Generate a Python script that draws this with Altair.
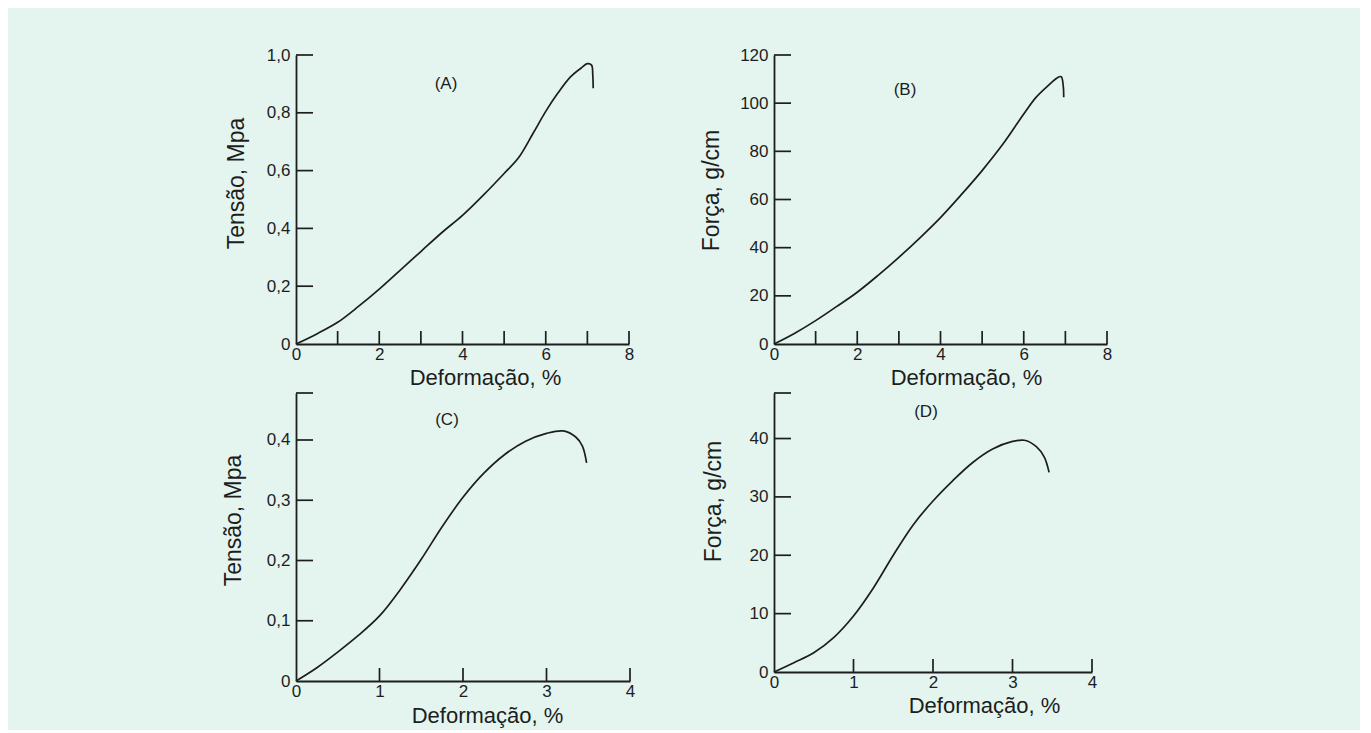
import altair as alt
import pandas as pd

# ---------------- data ----------------
# (A) Tensão (MPa) vs Deformação (%)
a_x = [0, 0.5, 1, 1.5, 2, 2.5, 3, 3.5, 4, 4.5, 5, 5.35, 5.7, 6, 6.3, 6.6, 6.85, 7.0, 7.1, 7.13, 7.14]
a_y = [0, 0.035, 0.075, 0.13, 0.19, 0.255, 0.32, 0.385, 0.445, 0.515, 0.59, 0.645, 0.73, 0.805, 0.87, 0.925, 0.955, 0.97, 0.965, 0.93, 0.885]
# (B) Força (g/cm) vs Deformação (%)
b_x = [0, 0.5, 1, 1.5, 2, 2.5, 3, 3.5, 4, 4.5, 5, 5.5, 6, 6.3, 6.6, 6.8, 6.9, 6.95, 6.96]
b_y = [0, 4.5, 9.7, 15.5, 21.5, 28.5, 36, 44, 52.5, 62, 72, 83, 95.5, 102.5, 107.5, 110.5, 111, 107, 102.5]
# (C) Tensão (MPa) vs Deformação (%)
c_x = [0, 0.25, 0.5, 0.75, 1, 1.25, 1.5, 1.75, 2, 2.25, 2.5, 2.75, 3, 3.2, 3.35, 3.43, 3.48]
c_y = [0, 0.022, 0.048, 0.076, 0.108, 0.152, 0.202, 0.256, 0.305, 0.345, 0.376, 0.398, 0.411, 0.415, 0.405, 0.39, 0.362]
# (D) Força (g/cm) vs Deformação (%)
d_x = [0, 0.25, 0.5, 0.75, 1, 1.25, 1.5, 1.75, 2, 2.25, 2.5, 2.75, 3, 3.15, 3.3, 3.4, 3.46]
d_y = [0, 1.6, 3.3, 5.9, 9.6, 14.4, 20.0, 25.2, 29.3, 32.8, 35.9, 38.2, 39.5, 39.7, 38.6, 36.8, 34.2]

panel_labels = ["(A)", "(B)", "(C)", "(D)"]
x_title = "Deformação, %"
y_titles = ["Tensão, Mpa", "Força, g/cm", "Tensão, Mpa", "Força, g/cm"]

a_xlabels = [0, 2, 4, 6, 8]
a_xticks = [1, 2, 3, 4, 5, 6, 7, 8]
a_ylabels = [0, 0.2, 0.4, 0.6, 0.8, 1.0]
a_yticks = [0.2, 0.4, 0.6, 0.8, 1.0]

b_xlabels = [0, 2, 4, 6, 8]
b_xticks = [1, 2, 3, 4, 5, 6, 7, 8]
b_ylabels = [0, 20, 40, 60, 80, 100, 120]
b_yticks = [20, 40, 60, 80, 100, 120]

c_xlabels = [0, 1, 2, 3, 4]
c_xticks = [1, 2, 3, 4]
c_ylabels = [0, 0.1, 0.2, 0.3, 0.4]
c_yticks = [0.1, 0.2, 0.3, 0.4, 0.478]

d_xlabels = [0, 1, 2, 3, 4]
d_xticks = [1, 2, 3, 4]
d_ylabels = [0, 10, 20, 30, 40]
d_yticks = [10, 20, 30, 40, 47.8]

BG = "#e4f5f0"
INK = "#1d1d1d"
FONT = "Liberation Sans"
COMMA = "datum.value == 0 ? '0' : replace(format(datum.value, '.1f'), '.', ',')"


def panel(xs, ys, label, ytitle, w, h, xdom, ydom, xlabels, xticks, ylabels, yticks,
          ylab_expr, xt_pos, yt_pos, lab_pos):
    df = pd.DataFrame({"x": xs, "y": ys, "i": list(range(len(xs)))})
    xscale = alt.Scale(domain=xdom, nice=False, zero=False)
    yscale = alt.Scale(domain=ydom, nice=False, zero=False)
    xaxis = alt.Axis(values=xlabels, ticks=False, tickSize=0, grid=False,
                     domainColor=INK, domainWidth=1.8, labelFlush=False, labelOverlap=False,
                     labelFont=FONT, labelFontSize=17, labelColor=INK, labelPadding=2,
                     title=x_title, titleFont=FONT, titleFontSize=22, titleFontWeight="normal",
                     titleColor=INK, titleX=xt_pos[0], titleY=xt_pos[1], titleBaseline="alphabetic")
    yargs = dict(values=ylabels, ticks=False, tickSize=0, grid=False,
                 domainColor=INK, domainWidth=1.8, labelFlush=False, labelOverlap=False,
                 labelFont=FONT, labelFontSize=17, labelColor=INK, labelPadding=6,
                 title=ytitle, titleFont=FONT, titleFontSize=23, titleFontWeight="normal",
                 titleColor=INK, titleX=yt_pos[0], titleY=yt_pos[1], titleBaseline="middle",
                 titleAngle=270)
    if ylab_expr:
        yargs["labelExpr"] = ylab_expr
    yaxis = alt.Axis(**yargs)

    line = alt.Chart(df).mark_line(color=INK, strokeWidth=1.7, interpolate="catmull-rom").encode(
        x=alt.X("x:Q", scale=xscale, axis=xaxis, title=x_title),
        y=alt.Y("y:Q", scale=yscale, axis=yaxis, title=ytitle),
        order=alt.Order("i:Q"),
    )
    xt = alt.Chart(pd.DataFrame({"t": xticks})).mark_rule(color=INK, strokeWidth=1.7).encode(
        x=alt.X("t:Q", scale=xscale, axis=xaxis, title=x_title),
        y=alt.value(h), y2=alt.value(h - 13),
    )
    yt = alt.Chart(pd.DataFrame({"t": yticks})).mark_rule(color=INK, strokeWidth=1.7).encode(
        y=alt.Y("t:Q", scale=yscale, axis=yaxis, title=ytitle),
        x=alt.value(0), x2=alt.value(17),
    )
    lab = alt.Chart(pd.DataFrame({"t": [label]})).mark_text(
        font=FONT, fontSize=17, color=INK).encode(
        text="t:N", x=alt.value(lab_pos[0]), y=alt.value(lab_pos[1]))
    return alt.layer(line, xt, yt, lab).properties(width=w, height=h)


pa = panel(a_x, a_y, panel_labels[0], y_titles[0], 333, 289, [0, 8], [0, 1.0],
           a_xlabels, a_xticks, a_ylabels, a_yticks, COMMA, (189, 40), (-60, 128), (150, 29))
pb = panel(b_x, b_y, panel_labels[1], y_titles[1], 333, 289, [0, 8], [0, 120],
           b_xlabels, b_xticks, b_ylabels, b_yticks, None, (192, 40), (-63, 135), (131, 35))
pc = panel(c_x, c_y, panel_labels[2], y_titles[2], 334, 288, [0, 4], [0, 0.478],
           c_xlabels, c_xticks, c_ylabels, c_yticks, COMMA, (191, 41), (-63, 127), (151, 27))
pd_ = panel(d_x, d_y, panel_labels[3], y_titles[3], 318, 279, [0, 4], [0, 47.8],
            d_xlabels, d_xticks, d_ylabels, d_yticks, None, (210, 40), (-61, 108), (152, 19))

chart = alt.concat(pa, pb, pc, pd_, columns=2, spacing={"row": 49, "column": 144}).properties(
    bounds="flush",
    padding={"left": 213, "top": 37, "right": 247, "bottom": 3},
).configure(background=BG, font=FONT).configure_view(stroke="transparent")

chart.save("out.html", embed_options={"renderer": "svg", "actions": False})
